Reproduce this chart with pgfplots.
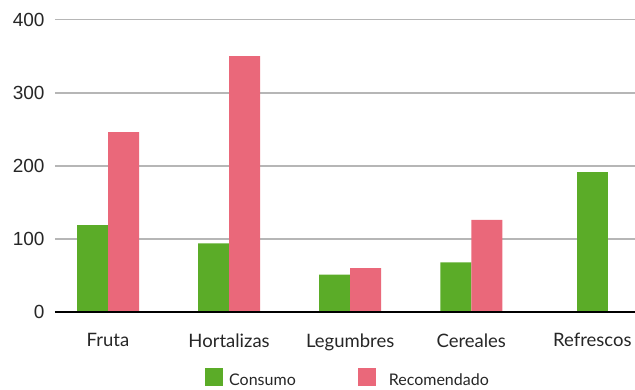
\documentclass[border=0pt]{standalone}
\usepackage{fontspec}
\setmainfont{Lato}
\newfontfamily\arialfont{Liberation Sans}
\usepackage{pgfplots}
\pgfplotsset{compat=1.18}

\definecolor{consumo}{RGB}{91,172,40}
\definecolor{recomendado}{RGB}{234,104,122}
\definecolor{gridgray}{RGB}{182,182,182}

\begin{document}
\begin{tikzpicture}[x=1pt,y=1pt]
\useasboundingbox (0,0) rectangle (635,389);
\begin{axis}[
  at={(55pt,77pt)}, anchor=south west,
  scale only axis,
  width=580pt, height=292.3pt,
  xmin=-0.4377, xmax=4.352,
  ymin=0, ymax=400,
  ytick={0,100,200,300,400},
  xtick={0,1,2,3,4},
  xticklabels={Fruta,Hortalizas,Legumbres,Cereales,Refrescos},
  major tick length=0pt,
  axis x line*=bottom, axis y line*=left,
  axis line style={draw=none},
  ymajorgrids,
  grid style={gridgray, line width=1.5pt},
  /pgf/number format/assume math mode=true,
  yticklabel style={font=\arialfont\fontsize{19}{21}\selectfont, text=black!85, xshift=-7pt},
  xticklabel style={font=\fontsize{18.5}{21}\selectfont, text=black!85, yshift=-18pt},
  ybar,
  bar width=0.256,
  legend columns=2,
  legend style={
    at={(0.2586,-0.191)}, anchor=north west,
    draw=none, fill=none, inner sep=0pt,
    font=\fontsize{16}{18}\selectfont,
    nodes={inner sep=0pt, text=black!85},
    /tikz/every even column/.style={column sep=62pt},
    /tikz/every odd column/.style={column sep=6pt},
  },
  legend image code/.code={\fill[#1] (0pt,-6pt) rectangle (18pt,12pt);},
]
% Daily intake versus recommendation (grams)
\addplot[fill=consumo, draw=none, bar shift=-0.128]
  coordinates {(0,119) (1,94) (2,51) (3,68)};
\addlegendentry{Consumo}
\addplot[fill=recomendado, draw=none, bar shift=0.128]
  coordinates {(0,246) (1,350) (2,60) (3,126)};
\addlegendentry{\hspace{7pt}Recomendado}
% soft drinks: consumption only, no recommended amount
\addplot[fill=consumo, draw=none, bar shift=0, forget plot]
  coordinates {(4,192)};
\draw[black, line width=2.5pt] (rel axis cs:0,0) -- (rel axis cs:1,0);
\end{axis}
\end{tikzpicture}
\end{document}
